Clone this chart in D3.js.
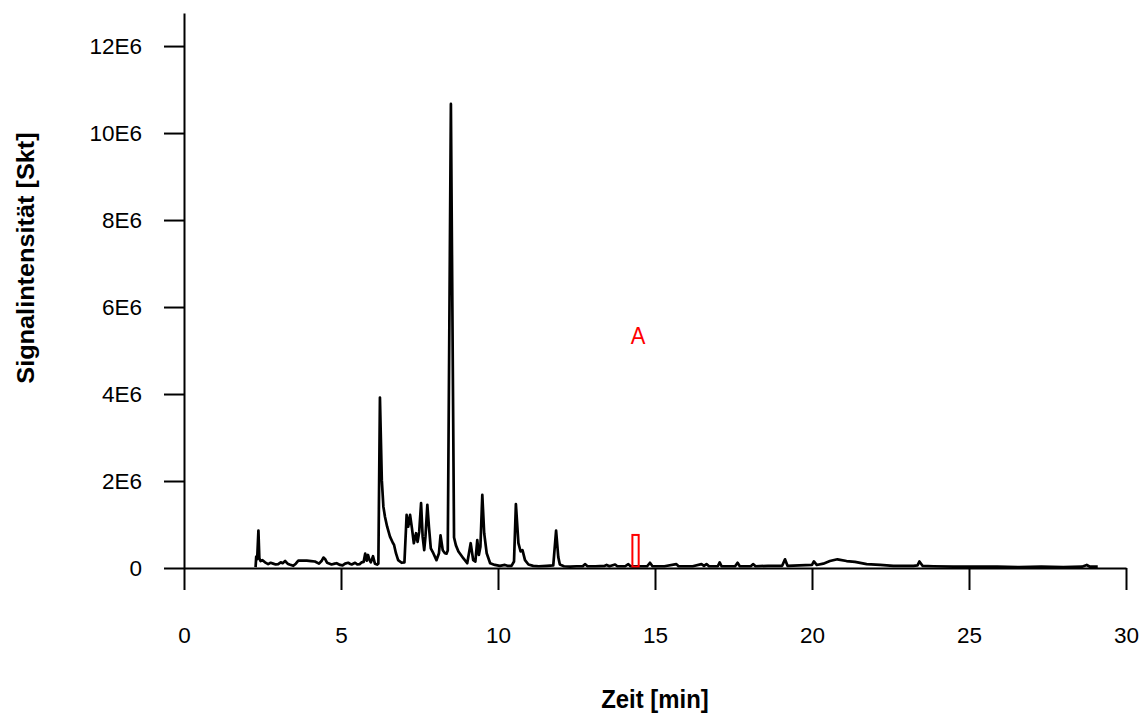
<!DOCTYPE html>
<html>
<head>
<meta charset="utf-8">
<script src="https://cdn.jsdelivr.net/npm/d3@7"></script>
<style>
  html, body { margin: 0; padding: 0; background: #ffffff; }
  svg { display: block; }
  text { font-family: "Liberation Sans", Arial, Helvetica, sans-serif; }
</style>
</head>
<body>
<svg id="chart" width="1141" height="713"></svg>
<script>
// Retention time of each sample point (min)
const timeMin = [
  2.28, 2.30, 2.33, 2.37, 2.40, 2.44, 2.50, 2.58, 2.68, 2.76, 2.84, 2.92, 3.00, 3.08, 3.14, 3.22,
  3.30, 3.36, 3.48, 3.56, 3.64, 3.80, 3.91, 4.05, 4.17, 4.30, 4.38, 4.44, 4.50, 4.56, 4.70, 4.80,
  4.86, 4.97, 5.05, 5.13, 5.23, 5.30, 5.34, 5.45, 5.52, 5.60, 5.66, 5.72, 5.77, 5.82, 5.86, 5.90,
  5.95, 6.02, 6.08, 6.15, 6.19, 6.24, 6.30, 6.35, 6.40, 6.47, 6.56, 6.65, 6.69, 6.75, 6.82, 6.93,
  7.02, 7.09, 7.14, 7.20, 7.26, 7.32, 7.39, 7.44, 7.49, 7.55, 7.60, 7.65, 7.69, 7.75, 7.80, 7.86,
  7.94, 8.04, 8.12, 8.17, 8.24, 8.31, 8.36, 8.40, 8.50, 8.60, 8.66, 8.74, 8.90, 9.02, 9.13, 9.21,
  9.28, 9.34, 9.39, 9.44, 9.50, 9.56, 9.64, 9.75, 9.90, 10.06, 10.22, 10.30, 10.43, 10.51, 10.57, 10.65,
  10.72, 10.78, 10.86, 10.97, 11.12, 11.30, 11.55, 11.76, 11.85, 11.92, 11.97, 12.10, 12.30, 12.50, 12.70, 12.77,
  12.85, 13.10, 13.40, 13.46, 13.55, 13.73, 13.80, 14.05, 14.15, 14.22, 14.50, 14.75, 14.84, 14.92, 15.30, 15.68,
  15.75, 16.20, 16.48, 16.56, 16.64, 16.72, 17.00, 17.06, 17.12, 17.55, 17.63, 17.70, 18.05, 18.13, 18.20, 18.60,
  19.05, 19.14, 19.22, 19.60, 20.00, 20.06, 20.15, 20.36, 20.57, 20.81, 21.10, 21.37, 21.74, 22.17, 22.59, 23.23,
  23.36, 23.42, 23.52, 23.86, 24.50, 25.20, 25.90, 26.60, 27.30, 28.00, 28.60, 28.75, 28.85, 29.10
];

// Signal intensity at each point (units of 1E6 Skt)
const intensityE6 = [
  0.02, 0.26, 0.20, 0.86, 0.22, 0.16, 0.18, 0.13, 0.09, 0.12, 0.10, 0.08, 0.09, 0.13, 0.11, 0.16,
  0.10, 0.08, 0.05, 0.10, 0.17, 0.17, 0.17, 0.16, 0.15, 0.10, 0.16, 0.24, 0.20, 0.12, 0.08, 0.10,
  0.11, 0.07, 0.06, 0.10, 0.12, 0.09, 0.08, 0.12, 0.08, 0.09, 0.13, 0.14, 0.33, 0.17, 0.30, 0.20,
  0.13, 0.27, 0.10, 0.08, 0.10, 3.92, 2.02, 1.41, 1.18, 0.95, 0.72, 0.58, 0.53, 0.34, 0.18, 0.12,
  0.13, 1.22, 0.95, 1.22, 0.91, 0.57, 0.80, 0.60, 0.83, 1.49, 0.72, 0.41, 0.72, 1.45, 0.95, 0.45,
  0.34, 0.18, 0.34, 0.75, 0.41, 0.34, 0.33, 0.40, 10.67, 0.70, 0.52, 0.38, 0.22, 0.11, 0.57, 0.18,
  0.15, 0.64, 0.30, 0.49, 1.68, 0.80, 0.34, 0.11, 0.07, 0.05, 0.07, 0.05, 0.05, 0.15, 1.47, 0.57,
  0.38, 0.41, 0.18, 0.08, 0.05, 0.04, 0.05, 0.06, 0.86, 0.25, 0.08, 0.04, 0.03, 0.04, 0.04, 0.09,
  0.04, 0.04, 0.05, 0.07, 0.04, 0.08, 0.04, 0.04, 0.09, 0.04, 0.04, 0.04, 0.12, 0.04, 0.04, 0.09,
  0.04, 0.04, 0.09, 0.05, 0.09, 0.04, 0.04, 0.13, 0.04, 0.04, 0.12, 0.04, 0.04, 0.09, 0.04, 0.05,
  0.05, 0.20, 0.05, 0.06, 0.07, 0.15, 0.07, 0.10, 0.16, 0.20, 0.16, 0.14, 0.09, 0.07, 0.05, 0.05,
  0.06, 0.15, 0.05, 0.04, 0.03, 0.03, 0.03, 0.02, 0.03, 0.02, 0.03, 0.07, 0.03, 0.03
];

// Axis ticks and labels
const xTicks = [0, 5, 10, 15, 20, 25, 30];
const yTicks = [0, 2, 4, 6, 8, 10, 12];
const yTickLabels = ["0", "2E6", "4E6", "6E6", "8E6", "10E6", "12E6"];

// Marked window (red box) and its label
const markWindow = [14.28, 14.48];
const markHeightE6 = [0.03, 0.76];
const markLabel = "A";
const markLabelPos = [14.46, 5.15];

const xTitle = "Zeit [min]";
const yTitle = "Signalintensität [Skt]";

const svg = d3.select("#chart");
svg.append("rect").attr("width", 1141).attr("height", 713).attr("fill", "#fff");

const x = d3.scaleLinear().domain([0, 30]).range([184, 1126]);
const y = d3.scaleLinear().domain([0, 12.76]).range([568, 13]);

// Chromatogram trace
const pts = timeMin.map((t, i) => [t, intensityE6[i]]);
const line = d3.line().x(d => x(d[0])).y(d => y(d[1]));
svg.append("path")
  .datum(pts)
  .attr("d", line)
  .attr("fill", "none")
  .attr("stroke", "#000")
  .attr("stroke-width", 2.7)
  .attr("stroke-linejoin", "round");

// Red window marker
svg.append("rect")
  .attr("x", x(markWindow[0]))
  .attr("width", x(markWindow[1]) - x(markWindow[0]))
  .attr("y", y(markHeightE6[1]))
  .attr("height", y(markHeightE6[0]) - y(markHeightE6[1]))
  .attr("fill", "none")
  .attr("stroke", "#ff0000")
  .attr("stroke-width", 2);

svg.append("text")
  .attr("transform", `translate(${x(markLabelPos[0])},${y(markLabelPos[1])}) scale(1,1.08)`)
  .attr("text-anchor", "middle")
  .attr("fill", "#ff0000")
  .attr("font-size", 22)
  .text(markLabel);

// Axes
const xAxis = d3.axisBottom(x)
  .tickValues(xTicks)
  .tickFormat(d3.format("d"))
  .tickSize(22)
  .tickSizeOuter(0)
  .tickPadding(37);

const yAxis = d3.axisLeft(y)
  .tickValues(yTicks)
  .tickFormat((d, i) => yTickLabels[i])
  .tickSize(20)
  .tickSizeOuter(0)
  .tickPadding(22);

const gx = svg.append("g").attr("transform", `translate(0,${y(0)})`).call(xAxis);
const gy = svg.append("g").attr("transform", `translate(${x(0)},0)`).call(yAxis);

[gx, gy].forEach(g => {
  g.select(".domain").attr("stroke", "#000").attr("stroke-width", 2);
  g.selectAll(".tick line").attr("stroke", "#000").attr("stroke-width", 2);
  g.selectAll(".tick text")
    .attr("fill", "#000")
    .attr("font-size", 22.5)
    .attr("font-family", "'Liberation Sans', Arial, sans-serif");
});

// Axis titles (glyphs drawn slightly taller than wide)
svg.append("text")
  .attr("transform", "translate(655,708) scale(1.04,1.12)")
  .attr("text-anchor", "middle")
  .attr("font-size", 23)
  .attr("font-weight", "bold")
  .text(xTitle);

svg.append("text")
  .attr("transform", "translate(34,258) rotate(-90) scale(1.1,1)")
  .attr("text-anchor", "middle")
  .attr("font-size", 23)
  .attr("font-weight", "bold")
  .text(yTitle);
</script>
</body>
</html>
